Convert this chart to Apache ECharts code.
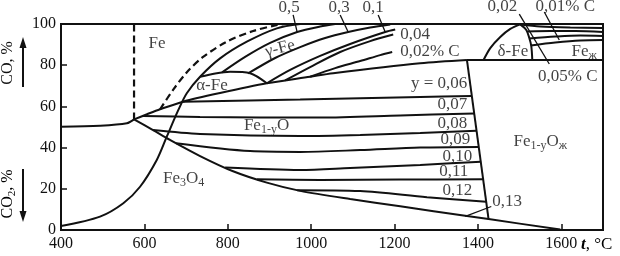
<!DOCTYPE html>
<html>
<head>
<meta charset="utf-8">
<script src="https://cdn.jsdelivr.net/npm/echarts@6/dist/echarts.min.js"></script>
<style>
html, body { margin: 0; padding: 0; background: #fff; }
#chart { width: 620px; height: 256px; }
</style>
</head>
<body>
<div id="chart"></div>
<script>
// axis ticks
const xTicks = [400, 600, 800, 1000, 1200, 1400, 1600]
const yTicks = [0, 20, 40, 60, 80, 100]

// phase boundaries, points are [t °C, CO %]
const magnetiteIron = [[400, 50.1], [493.6, 50.6], [558, 51.8], [575.2, 53.7]]
const ironWustite = [[575.2, 53.7], [606.4, 56.2], [637.6, 58.6], [692.8, 62.3], [781.6, 66.5],
  [893.7, 71.2], [997.6, 74.4], [1052.8, 76.1], [1261.6, 80.9], [1373.7, 82.5]]
const wustiteMagnetite = [[575.2, 53.7], [620.8, 48.5], [661.6, 43.7], [733.6, 35.9], [812.8, 28.5],
  [893.7, 23], [973.6, 19], [1093.6, 15], [1213.6, 11.5], [1373.7, 6.8], [1425.5, 5.3], [1597.6, 0.2]]
const boudouard = [[400, 1.9], [493.6, 6.5], [549.5, 13], [589.6, 21], [629.7, 34], [653.7, 45.3],
  [681.5, 58.3], [701.7, 66.4], [733.6, 74.4], [781.6, 83.3], [845.7, 91.4], [917.7, 97.9], [973.6, 100]]
const dashedCarbon = [[637.6, 58.6], [668.8, 68], [702.4, 76.7], [740.8, 84], [798.4, 91.5],
  [860.8, 96.6], [918.4, 99.5], [940, 100]]
const dashed570 = [[575.2, 53.7], [575.2, 100]]
const alphaGamma = [[733.6, 74.4], [770, 76], [805.6, 76.8], [853.6, 76.1], [893.7, 71.2]]
const wustiteMelt = [[1373.7, 82.5], [1425.5, 5.3]]
const ironMeltLine = [[1373.7, 82.5], [1700, 82.5]]
const deltaLeft = [[1413.5, 82.5], [1429.6, 88.3], [1453.6, 93.7], [1477.6, 97.6], [1501.6, 99.8]]
const deltaRight = [[1501.6, 99.8], [1516, 97.1], [1523.2, 93.2], [1528, 89.3], [1530.4, 82.5]]

// carbon in gamma iron, % C
const gamma05 = [[786.4, 76.5], [841.6, 84], [901.6, 90.8], [966.4, 96.1], [1021.6, 98.8], [1057.6, 100]]
const gamma03 = [[848.8, 76], [913.6, 83.5], [973.6, 88.8], [1033.6, 93.2], [1088.8, 96.1], [1141.6, 98.3], [1189.6, 99.8]]
const gamma01 = [[893.7, 71.2], [949.6, 77.7], [1021.6, 84.5], [1093.6, 90.3], [1177.6, 96.1], [1201.6, 97.3]]
const gamma004 = [[937.6, 72.6], [997.6, 79.1], [1069.6, 86.4], [1141.6, 91.7], [1196.8, 94.9]]
const gamma002 = [[997.6, 74.4], [1057.6, 78.6], [1117.6, 82], [1165.6, 84.9], [1194.4, 86.4]]

// carbon in liquid iron
const liquid1 = [[1501.6, 99.8], [1549.6, 98.8], [1621.6, 98.3], [1700, 98.1]]
const liquid2 = [[1518.4, 96.4], [1573.6, 96.6], [1633.6, 96.6], [1700, 96.1]]
const liquid3 = [[1523.2, 93], [1585.6, 93.9], [1645.6, 94.4], [1700, 94.2]]
const liquid4 = [[1526.8, 89.6], [1585.6, 91], [1645.6, 92], [1700, 92.2]]

// wustite Fe1-yO, lines of constant y
const wy06 = [[692.8, 62.3], [973.6, 63.3], [1261.6, 64.6], [1385.4, 65]]
const wy07 = [[596.8, 55.4], [733.6, 54.9], [877.6, 54.6], [1021.6, 54.6], [1213.6, 55.6], [1391.1, 56.6]]
const wy08 = [[620.8, 48.5], [733.6, 46.6], [973.6, 45.6], [1117.6, 46.1], [1261.6, 47.1], [1396.7, 48.2]]
const wy09 = [[676, 42.1], [853.6, 38.3], [973.6, 37.9], [1117.6, 38.8], [1261.6, 40], [1402, 40.3]]
const wy10 = [[793.6, 30.3], [973.6, 29.1], [1093.6, 30.1], [1261.6, 31.6], [1406.8, 33.1]]
const wy11 = [[870.4, 24.6], [1021.6, 24.3], [1213.6, 24.5], [1412.6, 24.6]]
const wy12 = [[966.4, 19.3], [1117.6, 18.9], [1277.7, 15.9], [1419.9, 13.7]]

// leader lines of labels
const leaders = [
  [[956.8, 104.4], [966.4, 96.1]],
  [[1069.6, 104.4], [1088.8, 96.1]],
  [[1160.8, 104.4], [1177.6, 96.1]],
  [[1499.2, 104.8], [1571.2, 80.6]],
  [[1559.2, 105.8], [1595.2, 92.2]],
  [[1369.6, 6.6], [1432, 11.4]]
]

// labels: [t, CO %, text, align, rotate]
const notes = [
  [630.4, 90.3, 'Fe', 'center', 0],
  [762, 70, 'α-Fe', 'center', 0],
  [925.6, 88.1, 'γ-Fe', 'center', 14],
  [893, 50.7, '{n|Fe}{s|1-y}{n|O}', 'center', 0],
  [694, 25, '{n|Fe}{s|3}{n|O}{s|4}', 'center', 0],
  [1549.6, 43, '{n|Fe}{s|1-y}{n|O}{s|ж}', 'center', 0],
  [1374.4, 70.9, 'y = 0,06', 'right', 0],
  [1374.4, 60.7, '0,07', 'right', 0],
  [1374.4, 51.7, '0,08', 'right', 0],
  [1381.6, 43.7, '0,09', 'right', 0],
  [1386.4, 35.7, '0,10', 'right', 0],
  [1376.8, 28.4, '0,11', 'right', 0],
  [1386.4, 19.2, '0,12', 'right', 0],
  [1434.4, 13.8, '0,13', 'left', 0],
  [947.2, 107.8, '0,5', 'center', 0],
  [1067.2, 107.8, '0,3', 'center', 0],
  [1148.8, 107.8, '0,1', 'center', 0],
  [1213.6, 94.7, '0,04', 'left', 0],
  [1213.6, 86.6, '0,02% C', 'left', 0],
  [1484, 86.8, 'δ-Fe', 'center', 0],
  [1655, 86.5, '{n|Fe}{s|ж}', 'center', 0],
  [1458.4, 108.5, '0,02', 'center', 0],
  [1609.6, 108.5, '0,01% C', 'center', 0],
  [1615.6, 74.5, '0,05% C', 'center', 0]
]

const ink = '#111'
const serif = 'Liberation Serif, DejaVu Serif, serif'
const rich = {
  n: { fontFamily: serif, fontSize: 17, color: ink, lineHeight: 20 },
  s: { fontFamily: serif, fontSize: 12, color: ink, lineHeight: 11, verticalAlign: 'bottom' }
}

function line(data, extra) {
  return Object.assign({
    type: 'line',
    data: data,
    symbol: 'none',
    smooth: 0.3,
    clip: false,
    silent: true,
    lineStyle: { color: ink, width: 2 }
  }, extra || {})
}

const series = [
  line(magnetiteIron), line(ironWustite), line(wustiteMagnetite), line(boudouard),
  line(dashedCarbon, { lineStyle: { color: ink, width: 2.2, type: [7, 4] } }),
  line(dashed570, { smooth: false, lineStyle: { color: ink, width: 2.2, type: [7, 4] } }),
  line(alphaGamma), line(wustiteMelt, { smooth: false }), line(ironMeltLine, { smooth: false }),
  line(deltaLeft), line(deltaRight),
  line(gamma05), line(gamma03), line(gamma01), line(gamma004), line(gamma002),
  line(liquid1), line(liquid2), line(liquid3), line(liquid4),
  line(wy06), line(wy07), line(wy08), line(wy09), line(wy10), line(wy11), line(wy12)
]
leaders.forEach(function (d) {
  series.push(line(d, { smooth: false, lineStyle: { color: ink, width: 1.3 } }))
})
series.push({
  type: 'scatter',
  symbolSize: 0,
  clip: false,
  silent: true,
  data: notes.map(function (n) {
    return {
      value: [n[0], n[1]],
      label: {
        show: true,
        position: 'inside',
        formatter: n[2].indexOf('{') === 0 ? n[2] : '{n|' + n[2] + '}',
        align: n[3],
        verticalAlign: 'middle',
        rotate: n[4],
        rich: rich
      }
    }
  })
})

const chart = echarts.init(document.getElementById('chart'))
chart.setOption({
  animation: false,
  backgroundColor: '#fff',
  grid: { left: 61, right: 17, top: 24, bottom: 26, show: true, borderColor: ink, borderWidth: 2 },
  xAxis: {
    type: 'value', min: 400, max: 1700, interval: 200,
    axisLine: { show: true, lineStyle: { color: ink, width: 2 } },
    axisTick: { show: true, inside: true, length: 6, lineStyle: { color: ink, width: 1.5 } },
    splitLine: { show: false },
    axisLabel: {
      color: ink, fontFamily: serif, fontSize: 16, margin: 6,
      formatter: function (v) { return xTicks.indexOf(v) >= 0 ? String(v) : '' }
    }
  },
  yAxis: {
    type: 'value', min: 0, max: 100, interval: 20,
    axisLine: { show: true, lineStyle: { color: ink, width: 2 } },
    axisTick: { show: true, inside: true, length: 6, lineStyle: { color: ink, width: 1.5 } },
    splitLine: { show: false },
    axisLabel: {
      color: ink, fontFamily: serif, fontSize: 16, margin: 5,
      formatter: function (v) { return yTicks.indexOf(v) >= 0 ? String(v) : '' }
    }
  },
  graphic: [
    { type: 'text', x: 8, y: 63, rotation: Math.PI / 2,
      style: { text: 'CO, %', fill: ink, font: '16px ' + serif, textAlign: 'center', textVerticalAlign: 'middle' } },
    { type: 'line', shape: { x1: 23, y1: 87, x2: 23, y2: 44 }, style: { stroke: ink, lineWidth: 2 } },
    { type: 'polygon', shape: { points: [[23, 37], [19.5, 48], [26.5, 48]] }, style: { fill: ink } },
    { type: 'text', x: 8, y: 194, rotation: Math.PI / 2,
      style: {
        text: '{n|CO}{s|2}{n|, %}', textAlign: 'center', textVerticalAlign: 'middle',
        rich: {
          n: { fontFamily: serif, fontSize: 16, color: ink, lineHeight: 19 },
          s: { fontFamily: serif, fontSize: 11, color: ink, lineHeight: 11, verticalAlign: 'bottom' }
        }
      } },
    { type: 'line', shape: { x1: 23, y1: 169, x2: 23, y2: 214 }, style: { stroke: ink, lineWidth: 2 } },
    { type: 'polygon', shape: { points: [[23, 222], [19.5, 211], [26.5, 211]] }, style: { fill: ink } },
    { type: 'text', x: 581, y: 245,
      style: {
        text: '{i|t}{n|, °C}', textAlign: 'left', textVerticalAlign: 'middle',
        rich: {
          i: { fontFamily: serif, fontSize: 17, fontStyle: 'italic', fontWeight: 'bold', color: ink },
          n: { fontFamily: serif, fontSize: 17, color: ink }
        }
      } }
  ],
  series: series
})
</script>
</body>
</html>
